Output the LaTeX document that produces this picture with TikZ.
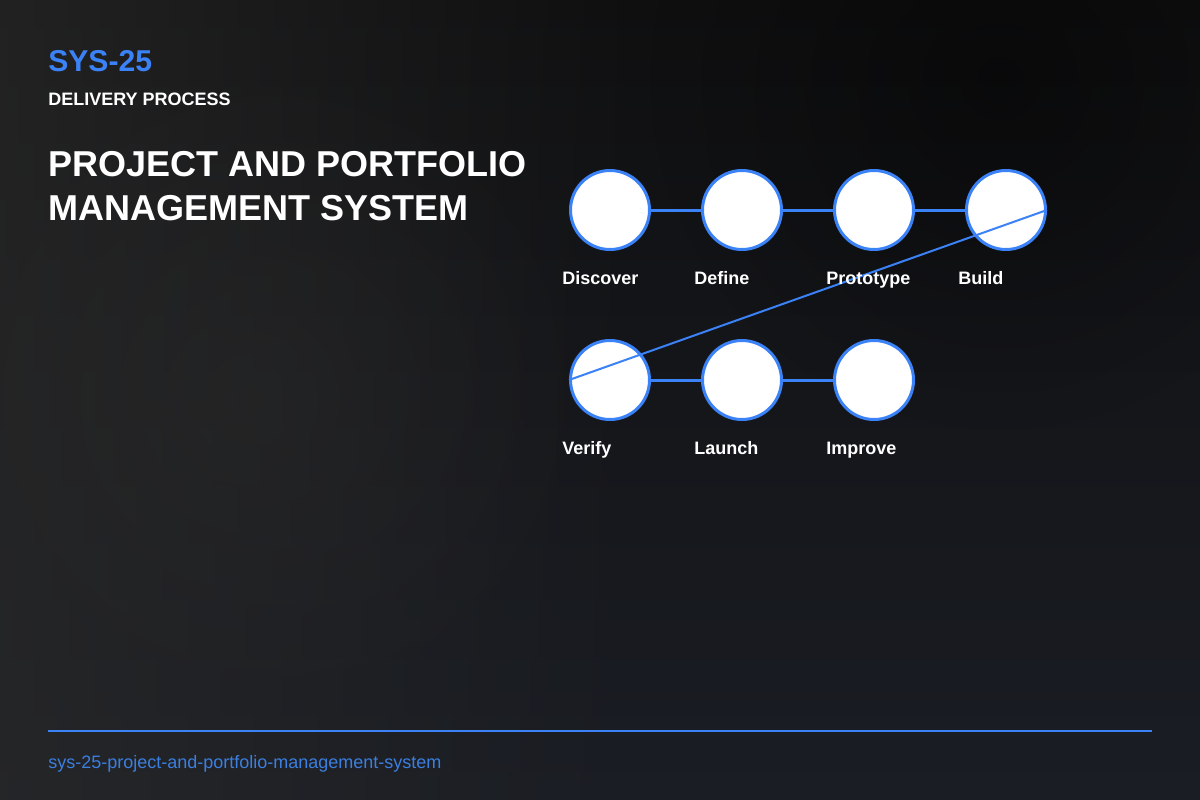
\documentclass[tikz,border=0pt]{standalone}
\usepackage{fontspec}
\setmainfont{Liberation Sans}
\usetikzlibrary{fadings}
\definecolor{accent}{HTML}{3B82F6}
\definecolor{footblue}{HTML}{3B7FE0}
\definecolor{bgA}{HTML}{0F0F10}
\definecolor{bgB}{HTML}{1A1D24}
\definecolor{glow}{HTML}{2A2A2A}
\tikzfading[name=fadeR, left color=transparent!0, right color=transparent!100]
\tikzfading[name=fadeRad, inner color=transparent!20, outer color=transparent!100]
\tikzset{
  stage/.style={circle, draw=accent, fill=white, line width=2.25pt, minimum size=59.25pt, inner sep=0pt},
  link/.style={draw=accent, line width=2.25pt},
  diag/.style={draw=accent, line width=1.5pt},
  lbl/.style={anchor=base west, text=white, font=\bfseries\fontsize{13.5pt}{16pt}\selectfont, inner sep=0pt},
}
\begin{document}
\begin{tikzpicture}[x=0.75pt,y=-0.75pt]
\useasboundingbox (0,0) rectangle (1200,800);
% background
\shade[top color=bgA, bottom color=bgB] (0,0) rectangle (1200,800);
\fill[glow, path fading=fadeR, opacity=0.7] (0,0) rectangle (650,800);
\fill[glow, path fading=fadeRad, opacity=0.6] (250,400) circle (350);
\fill[black, path fading=fadeRad, opacity=0.5] (1000,80) circle (350);
% header
\node[anchor=west, inner sep=0pt, text=accent, font=\bfseries\fontsize{22.6pt}{26pt}\selectfont] (code) at (48,61) {SYS-25};
\node[anchor=west, inner sep=0pt, text=white, font=\bfseries\fontsize{13.5pt}{16pt}\selectfont] (sub) at (48,99) {DELIVERY PROCESS};
\node[anchor=west, inner sep=0pt, text=white, font=\bfseries\fontsize{27pt}{33.5pt}\selectfont, align=left] (title) at (48,186) {PROJECT AND PORTFOLIO\\MANAGEMENT SYSTEM};
% stages
\node[stage] (s1) at (610,210) {};
\node[stage] (s2) at (742,210) {};
\node[stage] (s3) at (874,210) {};
\node[stage] (s4) at (1006,210) {};
\node[stage] (s5) at (610,380) {};
\node[stage] (s6) at (742,380) {};
\node[stage] (s7) at (874,380) {};
\draw[link] (s1) -- (s2);
\draw[link] (s2) -- (s3);
\draw[link] (s3) -- (s4);
\draw[link] (s5) -- (s6);
\draw[link] (s6) -- (s7);
\draw[diag] (s4.east) -- (s5.west);
% labels
\node[lbl] (l1) at (562,284) {Discover};
\node[lbl] (l2) at (694,284) {Define};
\node[lbl] (l3) at (826,284) {Prototype};
\node[lbl] (l4) at (958,284) {Build};
\node[lbl] (l5) at (562,454) {Verify};
\node[lbl] (l6) at (694,454) {Launch};
\node[lbl] (l7) at (826,454) {Improve};
% footer
\coordinate (fl) at (48,731);
\coordinate (fr) at (1152,731);
\draw[accent, line width=1.5pt] (fl) -- (fr);
\node[anchor=base west, inner sep=0pt, text=footblue, font=\fontsize{13.5pt}{16pt}\selectfont] (foot) at (48,768) {sys-25-project-and-portfolio-management-system};
\end{tikzpicture}
\end{document}
